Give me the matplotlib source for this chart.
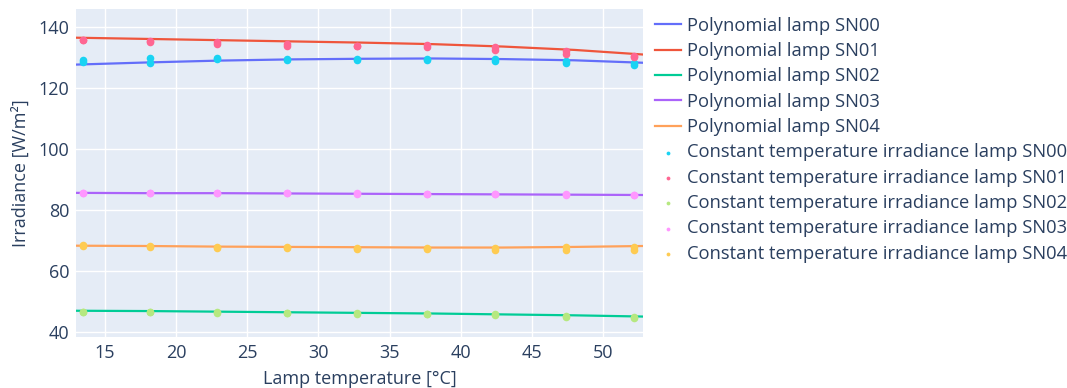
import matplotlib.pyplot as plt

plt.rcParams['font.family'] = ['Open Sans', 'DejaVu Sans']

# polynomial fit curves
fit_temp = [13.0, 18.0, 23.0, 28.0, 33.0, 38.0, 43.0, 48.0, 52.8]
fit_sn00 = [127.6, 128.3, 128.9, 129.3, 129.5, 129.6, 129.4, 129.0, 128.2]
fit_sn01 = [136.4, 136.0, 135.6, 135.2, 134.8, 134.3, 133.5, 132.4, 130.9]
fit_sn02 = [47.0, 46.9, 46.7, 46.5, 46.3, 46.1, 45.8, 45.5, 45.1]
fit_sn03 = [85.6, 85.5, 85.5, 85.4, 85.3, 85.2, 85.1, 85.0, 84.9]
fit_sn04 = [68.3, 68.2, 68.0, 67.9, 67.8, 67.7, 67.7, 67.9, 68.2]

# measured points (constant temperature irradiance)
pt_temp = [13.5, 13.5, 18.2, 18.2, 22.9, 22.9, 27.8, 27.8, 32.7, 32.7,
           37.6, 37.6, 42.4, 42.4, 47.4, 47.4, 52.2, 52.2]
pt_sn00 = [129.1, 128.5, 129.6, 128.0, 129.8, 129.4, 129.5, 129.1, 129.3, 129.2,
           129.5, 129.1, 129.4, 128.8, 128.8, 128.2, 128.0, 127.5]
pt_sn01 = [135.8, 135.6, 135.4, 135.0, 134.9, 134.4, 134.4, 133.8, 133.8, 133.6,
           133.9, 133.3, 133.2, 132.4, 132.0, 131.0, 130.3, 130.0]
pt_sn02 = [46.7, 46.6, 46.6, 46.5, 46.5, 46.4, 46.3, 46.2, 46.1, 46.0,
           46.0, 45.9, 45.8, 45.5, 45.3, 45.0, 44.8, 44.6]
pt_sn03 = [85.6, 85.5, 85.5, 85.5, 85.6, 85.5, 85.5, 85.4, 85.4, 85.3,
           85.2, 85.2, 85.2, 85.1, 85.1, 85.0, 85.0, 84.9]
pt_sn04 = [68.4, 68.1, 68.2, 68.0, 68.0, 67.6, 67.9, 67.5, 67.7, 67.3,
           67.7, 67.1, 67.7, 67.0, 68.0, 67.0, 68.0, 66.9]

lamps = ['SN00', 'SN01', 'SN02', 'SN03', 'SN04']
fits = [fit_sn00, fit_sn01, fit_sn02, fit_sn03, fit_sn04]
points = [pt_sn00, pt_sn01, pt_sn02, pt_sn03, pt_sn04]
line_colors = ['#636EFA', '#EF553B', '#00CC96', '#AB63FA', '#FFA15A']
dot_colors = ['#19D3F3', '#FF6692', '#B6E880', '#FF97FF', '#FECB52']

txt = '#2a3f5f'
fig = plt.figure(figsize=(10.67, 3.88), dpi=100)
ax = fig.add_axes([0.0712, 0.1314, 0.5314, 0.8454])
ax.set_facecolor('#E5ECF6')
for s in ax.spines.values():
    s.set_visible(False)
ax.grid(color='white', linewidth=1)
ax.set_axisbelow(True)

handles = []
for i in range(5):
    h, = ax.plot(fit_temp, fits[i], color=line_colors[i], lw=1.6,
                 label='Polynomial lamp ' + lamps[i])
    handles.append(h)
for i in range(5):
    h = ax.scatter(pt_temp, points[i], color=dot_colors[i], s=30, zorder=3,
                   linewidths=0, label='Constant temperature irradiance lamp ' + lamps[i])
    handles.append(h)

ax.set_xlim(12.98, 52.8)
ax.set_ylim(38.4, 145.8)
ax.set_xticks([15, 20, 25, 30, 35, 40, 45, 50])
ax.set_yticks([40, 60, 80, 100, 120, 140])
ax.tick_params(length=0, labelsize=13, colors=txt, pad=5)
ax.set_xlabel('Lamp temperature [°C]', fontsize=13, color=txt, labelpad=6)
ax.set_ylabel('Irradiance [W/m²]', fontsize=13, color=txt, labelpad=6)

fig.legend(handles=handles, loc='upper left', bbox_to_anchor=(0.614, 0.957),
           frameon=False, fontsize=13.2, labelcolor=txt, handlelength=1.4,
           handletextpad=0.35, labelspacing=0.4, markerscale=0.5,
           borderaxespad=0, borderpad=0)

fig.savefig('out.png', dpi=100)
